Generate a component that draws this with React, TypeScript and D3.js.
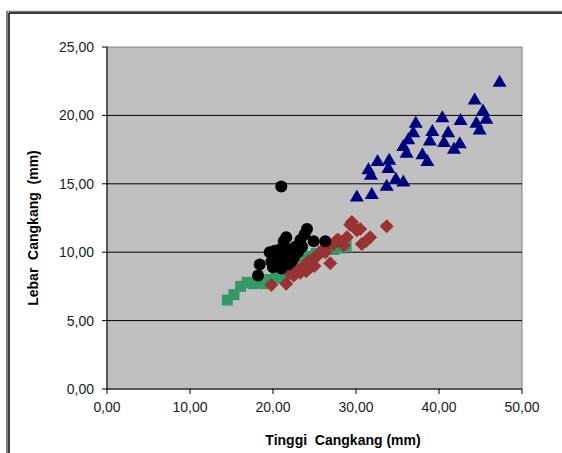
import React from "react";
import * as d3 from "d3";

const xTicks = [0, 10, 20, 30, 40, 50];
const yTicks = [0, 5, 10, 15, 20, 25];

// Triangles (navy)
const triX = [47.3, 44.3, 45.3, 45.7, 44.5, 44.9, 42.6, 40.4, 37.2, 36.9, 36.3, 35.7, 36.1, 39.2, 38.9, 41.1, 40.6, 42.5, 41.8, 38.0, 38.6, 32.6, 34.0, 33.9, 31.5, 31.8, 34.8, 35.7, 33.7, 31.9, 30.1];
const triY = [22.5, 21.2, 20.4, 19.8, 19.5, 19.0, 19.7, 19.9, 19.5, 18.8, 18.3, 17.8, 17.3, 18.9, 18.2, 18.8, 18.1, 18.0, 17.6, 17.2, 16.7, 16.7, 16.8, 16.2, 16.1, 15.7, 15.4, 15.2, 14.9, 14.3, 14.1];

// Squares (green)
const sqX = [14.5, 15.3, 16.1, 16.9, 17.6, 18.3, 19.0, 19.6, 20.4, 21.0, 21.6, 22.2, 22.7, 23.3, 23.8, 24.5, 25.2, 26.0, 26.8, 27.3, 28.2, 28.8, 22.3, 20.9];
const sqY = [6.5, 6.9, 7.5, 7.8, 7.7, 7.8, 7.7, 8.0, 8.1, 8.5, 8.7, 8.9, 9.1, 9.3, 9.6, 9.7, 9.9, 10.0, 10.2, 10.2, 10.3, 10.5, 8.4, 8.2];

// Diamonds (red)
const diaX = [19.8, 21.6, 23.3, 24.5, 25.3, 26.9, 26.3, 27.7, 28.9, 29.3, 30.7, 31.7, 33.7, 30.1, 28.5, 29.5, 30.5, 27.9, 22.5, 23.0, 23.8, 24.2, 24.8, 25.5, 26.0, 26.7, 27.3, 25.0, 23.5, 22.0, 24.0, 31.2];
const diaY = [7.6, 7.7, 8.5, 8.9, 9.7, 9.2, 10.0, 10.9, 11.1, 12.0, 10.6, 11.1, 11.9, 11.6, 10.5, 12.2, 11.7, 10.9, 8.3, 8.7, 9.0, 9.3, 9.5, 9.9, 10.2, 10.5, 10.6, 9.0, 8.8, 8.5, 8.6, 10.8];

// Circles (black)
const cirX = [21.0, 24.1, 23.8, 21.6, 21.3, 24.9, 26.3, 23.3, 22.7, 23.0, 19.6, 20.2, 20.8, 21.5, 20.4, 22.0, 21.2, 19.8, 20.6, 22.5, 18.4, 21.8, 20.0, 18.2, 21.0, 22.2, 23.5];
const cirY = [14.8, 11.7, 11.3, 11.1, 10.8, 10.8, 10.8, 10.9, 10.4, 10.0, 10.0, 10.1, 10.2, 10.3, 9.7, 9.7, 9.5, 9.3, 9.2, 9.6, 9.1, 9.1, 8.9, 8.3, 8.8, 9.3, 10.4];

const W = 562, H = 453;
const L = 107, R = 522, T = 47, B = 389;

export default function App() {
  const x = d3.scaleLinear().domain([0, 50]).range([L, R]);
  const y = d3.scaleLinear().domain([0, 25]).range([B, T]);
  const fmt = (v: number) => v.toFixed(2).replace(".", ",");
  const font = "'Liberation Sans', Arial, sans-serif";
  const tri = (cx: number, cy: number) => `M${cx},${cy - 6.5}L${cx + 7},${cy + 5.5}L${cx - 7},${cy + 5.5}Z`;
  const dia = (cx: number, cy: number) => `M${cx},${cy - 7}L${cx + 7},${cy}L${cx},${cy + 7}L${cx - 7},${cy}Z`;
  return (
    <svg width={W} height={H} style={{ position: "absolute", left: 0, top: 0, display: "block" }}>
      <rect x={0} y={0} width={W} height={H} fill="#fff" />
      {/* frame */}
      <line x1={7} y1={11.5} x2={W} y2={11.5} stroke="#808080" strokeWidth={1.5} />
      <line x1={9} y1={13} x2={W} y2={13} stroke="#000" strokeWidth={1.5} />
      <line x1={7} y1={11} x2={7} y2={H} stroke="#808080" strokeWidth={2} />
      <line x1={9} y1={13} x2={9} y2={H} stroke="#000" strokeWidth={1.5} />
      {/* plot area */}
      <rect x={L} y={T} width={R - L} height={B - T} fill="#C0C0C0" stroke="#808080" strokeWidth={1} />
      {yTicks.filter(v => v > 0 && v < 25).map(v => (
        <line key={v} x1={L} x2={R} y1={y(v)} y2={y(v)} stroke="#000" strokeWidth={1} />
      ))}
      {/* axes */}
      <line x1={L} x2={L} y1={T} y2={B} stroke="#000" />
      <line x1={L} x2={R} y1={B} y2={B} stroke="#000" />
      {yTicks.map(v => (
        <g key={"yt" + v}>
          <line x1={L - 5} x2={L} y1={y(v)} y2={y(v)} stroke="#000" />
          <text x={94} y={y(v)} dy="0.35em" textAnchor="end" fontFamily={font} fontSize={14} fill="#222">{fmt(v)}</text>
        </g>
      ))}
      {xTicks.map(v => (
        <g key={"xt" + v}>
          <line x1={x(v)} x2={x(v)} y1={B} y2={B + 5} stroke="#000" />
          <text x={x(v)} y={407} dy="0.35em" textAnchor="middle" fontFamily={font} fontSize={14} fill="#222">{fmt(v)}</text>
        </g>
      ))}
      {/* series */}
      {sqX.map((v, i) => (
        <rect key={"s" + i} x={x(v) - 5.5} y={y(sqY[i]) - 5.5} width={11} height={11} fill="#339966" />
      ))}
      {diaX.map((v, i) => (
        <path key={"d" + i} d={dia(x(v), y(diaY[i]))} fill="#993333" />
      ))}
      {triX.map((v, i) => (
        <path key={"t" + i} d={tri(x(v), y(triY[i]))} fill="#000080" />
      ))}
      {cirX.map((v, i) => (
        <circle key={"c" + i} cx={x(v)} cy={y(cirY[i])} r={6} fill="#000" />
      ))}
      {/* titles */}
      <text x={343} y={440} dy="0.35em" textAnchor="middle" fontFamily={font} fontSize={14} fontWeight="bold" fill="#000" style={{ whiteSpace: "pre" }}>{"Tinggi  Cangkang (mm)"}</text>
      <text transform={`translate(33,${(T + B) / 2 + 10}) rotate(-90)`} dy="0.35em" textAnchor="middle" fontFamily={font} fontSize={14} fontWeight="bold" fill="#000" style={{ whiteSpace: "pre" }}>{"Lebar  Cangkang  (mm)"}</text>
    </svg>
  );
}
